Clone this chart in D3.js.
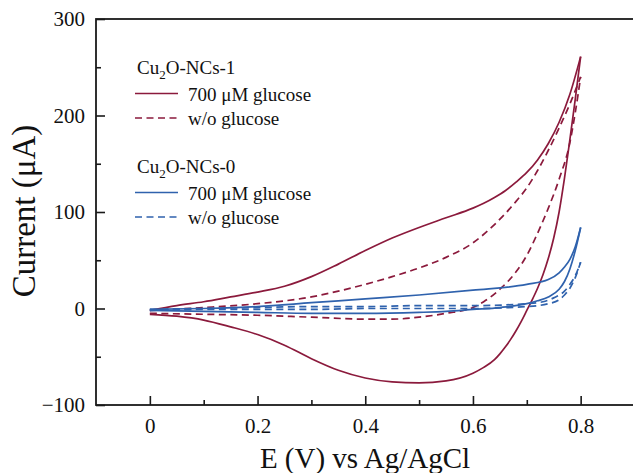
<!DOCTYPE html>
<html><head><meta charset="utf-8">
<script src="https://cdn.jsdelivr.net/npm/d3@7"></script>
<style>body{margin:0;background:#fff}svg{display:block}</style></head>
<body><svg id="c" width="633" height="473"></svg>
<script>
// ---- data ----
const xTicks = [0, 0.2, 0.4, 0.6, 0.8];
const xMinorTicks = [0.1, 0.3, 0.5, 0.7];
const yTicks = [-100, 0, 100, 200, 300];
const yMinorTicks = [-50, 50, 150, 250];
const xTitle = "E (V) vs Ag/AgCl";
const yTitle = "Current (μA)";
const legendGroups = ["NCs-1", "NCs-0"];
const legendItems = ["700 μM glucose", "w/o glucose"];

// Cu2O-NCs-1, 700 uM glucose: [E, I]
const ncs1GlucoseForward = [[0,-2],[0.05,3],[0.1,7],[0.15,12],[0.2,17],[0.25,23],[0.3,33],[0.35,46],[0.4,60],[0.45,73],[0.5,84],[0.55,94],[0.6,104],[0.62,109],[0.64,115],[0.66,122],[0.68,131],[0.7,141],[0.72,154],[0.74,171],[0.76,193],[0.78,222],[0.8,261]];
const ncs1GlucoseReturn = [[0,-6],[0.05,-8],[0.1,-12],[0.15,-19],[0.2,-27],[0.25,-38],[0.3,-52],[0.35,-64],[0.4,-72],[0.45,-76],[0.5,-77],[0.55,-75],[0.6,-67],[0.62,-61],[0.64,-53],[0.65,-47],[0.66,-40],[0.67,-32],[0.68,-23],[0.69,-13],[0.7,-2],[0.71,9],[0.72,21],[0.73,35],[0.74,52],[0.75,73],[0.76,100],[0.77,135],[0.78,175],[0.79,217],[0.8,261]];
// Cu2O-NCs-1, w/o glucose
const ncs1BlankForward = [[0,-2],[0.1,1],[0.2,5],[0.3,12],[0.35,18],[0.4,25],[0.45,33],[0.5,42],[0.55,53],[0.6,68],[0.64,87],[0.68,111],[0.7,125],[0.72,143],[0.74,164],[0.76,187],[0.78,212],[0.8,240]];
const ncs1BlankReturn = [[0,-5],[0.1,-6],[0.2,-7],[0.3,-9],[0.4,-11],[0.45,-11],[0.5,-9],[0.55,-5],[0.6,1],[0.62,7],[0.65,20],[0.68,38],[0.7,55],[0.72,78],[0.74,104],[0.76,134],[0.78,172],[0.79,203],[0.8,240]];
// Cu2O-NCs-0, 700 uM glucose
const ncs0GlucoseForward = [[0,-1],[0.1,0],[0.2,2],[0.3,6],[0.4,10],[0.5,14],[0.6,19],[0.7,25],[0.74,30],[0.76,37],[0.77,43],[0.78,51],[0.79,64],[0.8,84]];
const ncs0GlucoseReturn = [[0,-2],[0.1,-3],[0.2,-4],[0.3,-5],[0.4,-5],[0.5,-4],[0.55,-3],[0.6,-1],[0.65,1],[0.7,5],[0.72,8],[0.74,12],[0.76,20],[0.77,28],[0.78,41],[0.79,60],[0.8,84]];
// Cu2O-NCs-0, w/o glucose
const ncs0BlankForward = [[0,-1],[0.1,0],[0.2,1],[0.3,2],[0.4,2],[0.5,3],[0.6,3],[0.7,5],[0.73,7],[0.75,11],[0.77,18],[0.78,25],[0.79,34],[0.8,48]];
const ncs0BlankReturn = [[0,-2],[0.1,-1],[0.2,-1],[0.3,-1],[0.4,0],[0.5,0],[0.6,0],[0.7,2],[0.74,5],[0.76,9],[0.77,14],[0.78,21],[0.79,32],[0.8,48]];

// ---- styles ----
const RED = "#8b1a3c", BLUE = "#2f62ad", AXIS = "#1a1a1a";
const FONT = "Liberation Serif, Times New Roman, serif";
const DASH = "7,4.5";

const svg = d3.select("#c");
const L = 96, R = 634.5, T = 19, B = 405;
const x = d3.scaleLinear().domain([-0.1, 0.9]).range([L, R]);
const y = d3.scaleLinear().domain([-100, 300]).range([B, T]);

// curves
const line = d3.line().x(d => x(d[0])).y(d => y(d[1])).curve(d3.curveMonotoneX);
const series = [
  {f: ncs1GlucoseForward, r: ncs1GlucoseReturn, c: RED, dash: null},
  {f: ncs1BlankForward, r: ncs1BlankReturn, c: RED, dash: DASH},
  {f: ncs0GlucoseForward, r: ncs0GlucoseReturn, c: BLUE, dash: null},
  {f: ncs0BlankForward, r: ncs0BlankReturn, c: BLUE, dash: DASH}
];
const gl = svg.append("g");
series.forEach(s => {
  [s.f, s.r].forEach(d => {
    gl.append("path").attr("d", line(d)).attr("fill", "none")
      .attr("stroke", s.c).attr("stroke-width", 1.7)
      .attr("stroke-dasharray", s.dash);
  });
});

// axes
const fmtY = d => d < 0 ? "\u2212" + Math.abs(d) : String(d);
const fmtX = d => d === 0 ? "0" : d3.format(".1f")(d);
const gx = svg.append("g").attr("transform", `translate(0,${B})`)
  .call(d3.axisBottom(x).tickValues(xTicks).tickFormat(fmtX).tickSize(-9).tickPadding(13));
const gxm = svg.append("g").attr("transform", `translate(0,${B})`)
  .call(d3.axisBottom(x).tickValues(xMinorTicks).tickFormat("").tickSize(-5));
const gy = svg.append("g").attr("transform", `translate(${L},0)`)
  .call(d3.axisLeft(y).tickValues(yTicks).tickFormat(fmtY).tickSize(-9).tickPadding(11));
const gym = svg.append("g").attr("transform", `translate(${L},0)`)
  .call(d3.axisLeft(y).tickValues(yMinorTicks).tickFormat("").tickSize(-5));
[gx, gxm, gy, gym].forEach(g => {
  g.attr("font-family", FONT).attr("font-size", 21);
  g.select(".domain").remove();
  g.selectAll("line").attr("stroke", AXIS).attr("stroke-width", 1.6);
  g.selectAll("text").attr("fill", "#111").attr("font-family", FONT).attr("font-size", 21);
});

// frame
svg.append("rect").attr("x", L).attr("y", T).attr("width", R - L).attr("height", B - T)
  .attr("fill", "none").attr("stroke", AXIS).attr("stroke-width", 1.8);

// titles
svg.append("text").attr("x", 365).attr("y", 468).attr("text-anchor", "middle")
  .attr("font-family", FONT).attr("font-size", 29).attr("fill", "#111").text(xTitle);
svg.append("text").attr("transform", `translate(35,211) rotate(-90)`)
  .attr("text-anchor", "middle").attr("font-family", FONT).attr("font-size", 33)
  .attr("fill", "#111").text(yTitle);

// legend
const lg = svg.append("g").attr("font-family", FONT).attr("fill", "#111");
const groupY = [74, 173];
const groupColors = [RED, BLUE];
legendGroups.forEach((name, gi) => {
  const gy0 = groupY[gi];
  const t = lg.append("text").attr("x", 137).attr("y", gy0).attr("font-size", 19);
  t.append("tspan").text("Cu");
  t.append("tspan").attr("dy", 5).attr("font-size", 13).text("2");
  t.append("tspan").attr("dy", -5).text("O-" + name);
  legendItems.forEach((lab, li) => {
    const ly = gy0 + 19.5 + li * 24.5;
    lg.append("line").attr("x1", 135).attr("x2", 178).attr("y1", ly).attr("y2", ly)
      .attr("stroke", groupColors[gi]).attr("stroke-width", 1.7)
      .attr("stroke-dasharray", li === 1 ? DASH : null);
    lg.append("text").attr("x", 188).attr("y", ly + 7).attr("font-size", 19).text(lab);
  });
});
</script></body></html>
